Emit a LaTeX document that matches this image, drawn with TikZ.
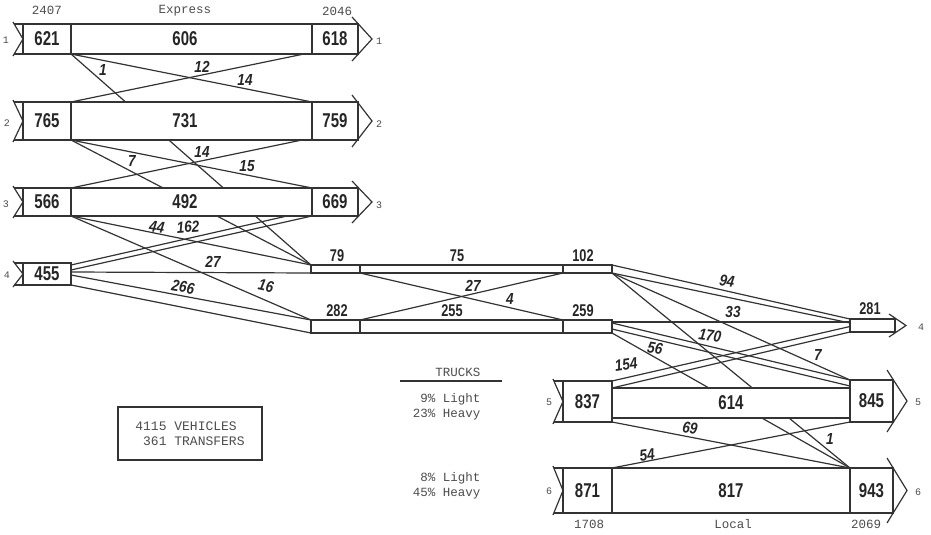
\documentclass[tikz,border=0pt]{standalone}
\usepackage{fontspec}
\setmainfont{Liberation Serif}
\newfontfamily\numfont[FakeStretch=0.75]{Liberation Sans}
\newfontfamily\lblfont[FakeStretch=0.85]{Liberation Sans}
\newfontfamily\twfont{Liberation Mono}
\usetikzlibrary{calc,backgrounds}
\newcommand\mylchev[1]{%
  \draw[ln] ($(#1.north west)+(-10,-2)$) -- (#1.west) -- ($(#1.south west)+(-10,2)$);
  \draw[ln] ($(#1.north west)+(-9,0)$) -- (#1.north west);
  \draw[ln] ($(#1.south west)+(-9,0)$) -- (#1.south west);}
\newcommand\myrchev[3]{%
  \draw[ln] ($(#1.north east)+(-6,-#2)$) -- ($(#1.east)+(#3,0)$) -- ($(#1.south east)+(-6,#2)$);}
\begin{document}
\begin{tikzpicture}[x=1pt,y=-1pt,
  ln/.style={draw=black!80,line width=1.2pt},
  box/.style={draw=black!80,line width=1.2pt,fill=white,inner sep=0pt,outer sep=0pt,anchor=north west},
  num/.style={font=\numfont\bfseries\fontsize{20}{20}\selectfont,text=black!85},
  bnum/.style={font=\numfont\bfseries\fontsize{17}{17}\selectfont,text=black!85},
  lbl/.style={font=\lblfont\bfseries\itshape\fontsize{16}{16}\selectfont,text=black!85,inner sep=0pt},
  tw/.style={font=\twfont\fontsize{12.5}{15}\selectfont,text=black!70},
  rn/.style={font=\twfont\fontsize{10}{10}\selectfont,text=black!70}]
\useasboundingbox (0,0) rectangle (931,535);

% ---- Express rows
\node[box,num,minimum width=48pt,minimum height=30pt] (a1) at (23,24) {621};
\node[box,minimum width=241pt,minimum height=30pt] (m1) at (71,24) {};
\node[box,num,minimum width=46pt,minimum height=30pt] (b1) at (312,24) {618};
\node[num] (t606) at (185,39) {606};

\node[box,num,minimum width=48pt,minimum height=38pt] (a2) at (23,102) {765};
\node[box,minimum width=241pt,minimum height=38pt] (m2) at (71,102) {};
\node[box,num,minimum width=46pt,minimum height=38pt] (b2) at (312,102) {759};
\node[num] (t731) at (185,121) {731};

\node[box,num,minimum width=48pt,minimum height=28pt] (a3) at (23,188) {566};
\node[box,minimum width=241pt,minimum height=28pt] (m3) at (71,188) {};
\node[box,num,minimum width=46pt,minimum height=28pt] (b3) at (312,188) {669};
\node[num] (t492) at (185,202) {492};

\node[box,num,minimum width=48pt,minimum height=22pt] (a4) at (23,263) {455};

% ---- middle bands
\node[box,minimum width=49pt,minimum height=8pt] (s79) at (311,265) {};
\node[box,minimum width=203pt,minimum height=8pt] (s75) at (360,265) {};
\node[box,minimum width=49pt,minimum height=8pt] (s102) at (563,265) {};
\node[box,minimum width=49pt,minimum height=13pt] (s282) at (311,320) {};
\node[box,minimum width=203pt,minimum height=13pt] (s255) at (360,320) {};
\node[box,minimum width=49pt,minimum height=13pt] (s259) at (563,320) {};
\node[bnum] (t79) at (337,256) {79};
\node[bnum] (t75) at (457,256) {75};
\node[bnum] (t102) at (583,256) {102};
\node[bnum] (t282) at (337,311) {282};
\node[bnum] (t255) at (452,311) {255};
\node[bnum] (t259) at (583,311) {259};

\node[box,minimum width=45pt,minimum height=13pt] (r4) at (850,319) {};
\node[bnum] (t281) at (870,309) {281};

% ---- Local rows
\node[box,num,minimum width=49pt,minimum height=41pt] (a5) at (563,381) {837};
\node[box,num,minimum width=238pt,minimum height=30pt] (m5) at (612,388) {614};
\node[box,num,minimum width=43pt,minimum height=42pt] (b5) at (850,380) {845};

\node[box,num,minimum width=49pt,minimum height=45pt] (a6) at (563,468) {871};
\node[box,num,minimum width=238pt,minimum height=45pt] (m6) at (612,468) {817};
\node[box,num,minimum width=43pt,minimum height=45pt] (b6) at (850,468) {943};

% ---- arrow tails and heads
\mylchev{a1}\mylchev{a2}\mylchev{a3}\mylchev{a4}\mylchev{a5}\mylchev{a6}
\myrchev{b1}{7}{14}\myrchev{b2}{7}{14}\myrchev{b3}{7}{14}
\myrchev{r4}{5}{11}
\myrchev{b5}{10}{14}\myrchev{b6}{10}{14}

% ---- row numbers
\node[rn] (l1) at (6,40) {1};   \node[rn] (r1) at (379,41) {1};
\node[rn] (l2) at (7,123) {2};  \node[rn] (r2) at (379,124) {2};
\node[rn] (l3) at (6,204) {3};  \node[rn] (r3) at (379,205) {3};
\node[rn] (l4) at (7,275) {4};  \node[rn] (r4n) at (921,327) {4};
\node[rn] (l5) at (549,402) {5}; \node[rn] (r5) at (918,402) {5};
\node[rn] (l6) at (549,491) {6}; \node[rn] (r6) at (918,492) {6};

% ---- free ends
\coordinate (e12) at ($(b1.south west)+(-8,0)$);
\coordinate (e14) at ($(b2.south west)+(-10,0)$);
\coordinate (e162) at ($(b3.south west)+(-25,0)$);
\coordinate (o162a) at ($(a4.north east)+(0,2)$);
\coordinate (o162b) at ($(a4.east)+(0,-4)$);
\coordinate (o27) at ($(a4.east)+(0,-2)$);
\coordinate (o266) at ($(a4.east)+(0,1)$);
\coordinate (i94) at ($(r4.north west)+(0,4)$);
\coordinate (o33) at ($(s259.north east)+(0,2)$);
\coordinate (i33) at ($(r4.north west)+(0,3)$);
\coordinate (o170a) at ($(s259.north east)+(0,3)$);
\coordinate (o170b) at ($(s259.north east)+(0,9)$);
\coordinate (i170) at ($(b5.north west)+(0,6)$);
\coordinate (o154) at ($(a5.north east)+(0,7)$);
\coordinate (i154) at ($(r4.west)+(0,1)$);

% ---- connectors
\begin{pgfonlayer}{background}
\draw[ln] (a1.south east) -- (b2.north west);
\draw[ln] (a1.south east) -- (s79.north west);
\draw[ln] (a2.north east) -- (e12);
\draw[ln] (a2.south east) -- (s79.north west);
\draw[ln] (a2.south east) -- (b3.north west);
\draw[ln] (a3.north east) -- (e14);
\draw[ln] (a3.south east) -- (s79.north west);
\draw[ln] (a3.south east) -- (s282.north west);
\draw[ln] (o162a) -- (e162);
\draw[ln] (o162b) -- (b3.south west);
\draw[ln] (o27) -- (s79.south west);
\draw[ln] (o266) -- (s282.north west);
\draw[ln] (a4.south east) -- (s282.south west);
\draw[ln] (s79.south east) -- (s259.north west);
\draw[ln] (s282.north east) -- (s102.south west);
\draw[ln] (s102.north east) -- (r4.north west);
\draw[ln] (s102.south east) -- (i94);
\draw[ln] (o33) -- (i33);
\draw[ln] (o170a) -- (b5.north west);
\draw[ln] (o170b) -- (i170);
\draw[ln] (s259.south east) -- (b6.north west);
\draw[ln] (s102.south east) -- (b5.north west);
\draw[ln] (s102.south east) -- (b6.north west);
\draw[ln] (a5.north east) -- (i154);
\draw[ln] (o154) -- (r4.south west);
\draw[ln] (a5.south east) -- (b6.north west);
\draw[ln] (a6.north east) -- (b5.south west);
\end{pgfonlayer}

% ---- connector labels
\node[lbl] (q1) at (103,70) {1};
\node[lbl] (q12) at (202,67) {12};
\node[lbl] (q14) at (245,80) {14};
\node[lbl] (q7) at (132,161) {7};
\node[lbl] (q14b) at (202,152) {14};
\node[lbl] (q15) at (247,166) {15};
\node[lbl,rotate=-8] (q44) at (157,227) {44};
\node[lbl,rotate=4] (q162) at (188,227) {162};
\node[lbl] (q27) at (213,262) {27};
\node[lbl,rotate=-10] (q266) at (183,287) {266};
\node[lbl,rotate=-12] (q16) at (266,286) {16};
\node[lbl] (q27b) at (473,286) {27};
\node[lbl] (q4) at (510,299) {4};
\node[lbl,rotate=-8] (q94) at (727,281) {94};
\node[lbl] (q33) at (733,312) {33};
\node[lbl,rotate=-8] (q170) at (710,336) {170};
\node[lbl,rotate=-10] (q56) at (655,348) {56};
\node[lbl] (q7b) at (818,355) {7};
\node[lbl,rotate=8] (q154) at (626,365) {154};
\node[lbl,rotate=-8] (q69) at (690,428) {69};
\node[lbl,rotate=8] (q54) at (647,455) {54};
\node[lbl] (q1b) at (830,439) {1};

% ---- plain texts
\node[tw] (t2407) at (47,10) {2407};
\node[tw] (texp) at (185,11) {Express};
\node[tw] (t2046) at (337,11) {2046};
\node[tw] (t1708) at (589,524) {1708};
\node[tw] (tloc) at (733,524) {Local};
\node[tw] (t2069) at (866,524) {2069};

\node[tw,anchor=east] (trk) at (484,372) {TRUCKS};
\coordinate (ruleL) at (400,381);
\coordinate (ruleR) at (502,381);
\draw[ln] (ruleL) -- (ruleR);
\node[tw,anchor=east,align=right] (tr5) at (484,407) {9\% Light\\23\% Heavy};
\node[tw,anchor=east,align=right] (tr6) at (484,486) {8\% Light\\45\% Heavy};

\node[draw=black!80,line width=1.2pt,font=\twfont\fontsize{13}{15.5}\selectfont,text=black!70,align=left,minimum width=144pt,minimum height=53pt] (leg) at (190,433.5) {4115 VEHICLES\\\phantom{4}361 TRANSFERS};
\end{tikzpicture}
\end{document}
